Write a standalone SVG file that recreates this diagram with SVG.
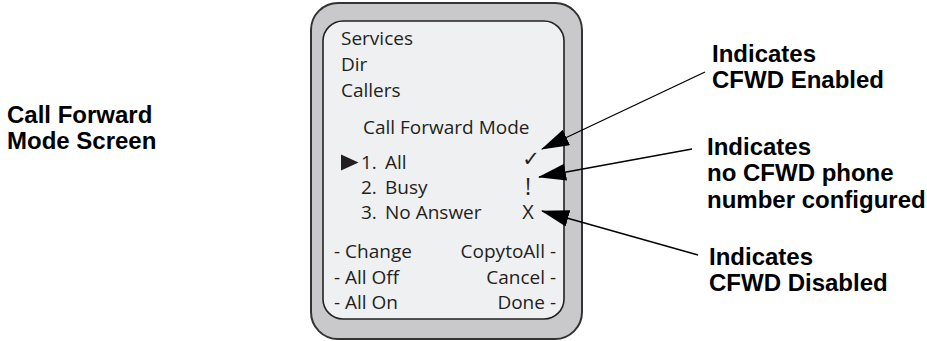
<svg xmlns="http://www.w3.org/2000/svg" width="927" height="341" viewBox="0 0 927 341">
<style>
.lbl{font-family:"Liberation Sans",Arial,sans-serif;font-weight:bold;font-size:24px;fill:#000}
.scr{font-family:"Open Sans","Noto Sans",sans-serif;font-size:19px;fill:#231f20}
.conn{stroke:#000;stroke-width:1.3;fill:none}
</style>
<defs>
<marker id="ah" markerUnits="userSpaceOnUse" markerWidth="28" markerHeight="17" viewBox="0 0 28 17" refX="27" refY="8.5" orient="auto">
<path d="M0,0 L28,8.5 L0,17 z" fill="#000"/>
</marker>
</defs>
<g id="phone">
<rect x="311" y="3" width="271" height="336" rx="27" fill="#c9c9cb" stroke="#333" stroke-width="2"/>
<rect x="323" y="21" width="241" height="298" rx="20" fill="#eff0f2" stroke="#222" stroke-width="1.6"/>
</g>
<g id="screen-text">
<text class="scr" x="341" y="45">Services</text>
<text class="scr" x="341" y="71">Dir</text>
<text class="scr" x="341" y="97">Callers</text>
<text class="scr" x="363" y="134">Call Forward Mode</text>
<path d="M341,154.5 L358.5,162.5 L341,170.5 z" fill="#231f20"/>
<text class="scr" x="361" y="169">1. <tspan x="385">All</tspan></text>
<text class="scr" x="361" y="194">2. <tspan x="385">Busy</tspan></text>
<text class="scr" x="361" y="219">3. <tspan x="385">No Answer</tspan></text>
<text x="531" y="166" text-anchor="middle" style="font-family:'DejaVu Sans',sans-serif;font-size:21px;fill:#231f20">✓</text>
<text class="scr" x="528" y="195" text-anchor="middle" style="font-size:23px">!</text>
<text class="scr" x="528" y="218.5" text-anchor="middle" style="font-size:20px">X</text>
<text class="scr" x="334" y="258">- Change</text>
<text class="scr" x="334" y="284">- All Off</text>
<text class="scr" x="334" y="309">- All On</text>
<text class="scr" x="556" y="258" text-anchor="end">CopytoAll -</text>
<text class="scr" x="556" y="284" text-anchor="end">Cancel -</text>
<text class="scr" x="556" y="309" text-anchor="end">Done -</text>
</g>
<g id="label-title">
<text class="lbl" x="7" y="123">Call Forward</text>
<text class="lbl" x="7" y="149">Mode Screen</text>
</g>
<g id="label-enabled">
<text class="lbl" x="712" y="62">Indicates</text>
<text class="lbl" x="712" y="88">CFWD Enabled</text>
</g>
<g id="label-noconfig">
<text class="lbl" x="707" y="155">Indicates</text>
<text class="lbl" x="707" y="181">no CFWD phone</text>
<text class="lbl" x="707" y="208">number configured</text>
</g>
<g id="label-disabled">
<text class="lbl" x="709" y="265">Indicates</text>
<text class="lbl" x="709" y="291">CFWD Disabled</text>
</g>
<g id="connectors">
<line class="conn" x1="705" y1="72" x2="542" y2="149" marker-end="url(#ah)"/>
<line class="conn" x1="692" y1="149" x2="539" y2="177" marker-end="url(#ah)"/>
<line class="conn" x1="698" y1="255" x2="542" y2="211" marker-end="url(#ah)"/>
</g>
</svg>
